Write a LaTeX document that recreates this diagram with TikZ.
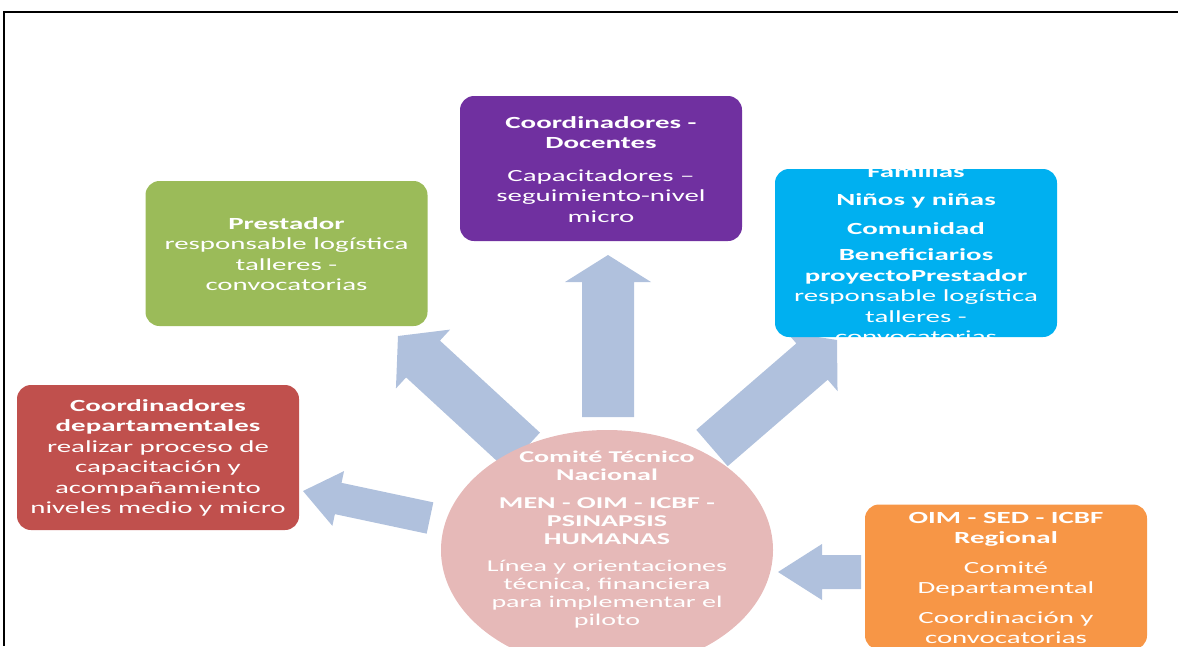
\documentclass[tikz,border=0pt]{standalone}
\usepackage{fontspec}
\setmainfont{Carlito}[FakeStretch=1.7]
\usetikzlibrary{calc,shapes.geometric}
\definecolor{cpurple}{HTML}{7030A0}
\definecolor{cgreen}{HTML}{9BBB59}
\definecolor{cblue}{HTML}{00B0F0}
\definecolor{cred}{HTML}{C0504D}
\definecolor{corange}{HTML}{F79646}
\definecolor{cpink}{HTML}{E6B9B8}
\definecolor{carrow}{RGB}{176,193,221}
\newcommand\myblockarrow[5]{%
  \coordinate (hb) at ($(#2)!#5!(#1)$);
  \fill[arr] ($(#1)!#3!90:(#2)$) -- ($(hb)!#3!90:(#2)$) -- ($(hb)!#4!90:(#2)$) -- (#2)
    -- ($(hb)!#4!-90:(#2)$) -- ($(hb)!#3!-90:(#2)$) -- ($(#1)!#3!-90:(#2)$) -- cycle;}
\begin{document}
\begin{tikzpicture}[x=1pt,y=-1pt,
  box/.style={draw=none, rounded corners=14pt, minimum width=282pt, minimum height=145pt, inner sep=0pt},
  txt/.style={text=white, align=center, font=\fontsize{17}{20.5}\selectfont, inner sep=0pt},
  ctxt/.style={text=white, align=center, font=\fontsize{16.5}{18}\selectfont, inner sep=0pt},
  arr/.style={fill=carrow, draw=none}]
\useasboundingbox (0,0) rectangle (1178,646);
% frame
\draw[line width=2pt] (1178,12) -- (4,12) -- (4,646);

% arrows
\coordinate (upT) at (608,417);   \coordinate (upH) at (608,255);
\coordinate (ulT) at (523,451);   \coordinate (ulH) at (398,336);
\coordinate (urT) at (712,448);   \coordinate (urH) at (837,340);
\coordinate (lT) at (430,518);    \coordinate (lH) at (303,491);
\coordinate (oT) at (861,572);    \coordinate (oH) at (778,572);
\myblockarrow{upT}{upH}{26pt}{43pt}{27pt}
\myblockarrow{ulT}{ulH}{25pt}{40pt}{34pt}
\myblockarrow{urT}{urH}{24pt}{39pt}{33pt}
\myblockarrow{lT}{lH}{16pt}{28pt}{36pt}
\myblockarrow{oT}{oH}{17pt}{28pt}{44pt}

% centre
\node[ellipse, fill=cpink, minimum width=332pt, minimum height=240pt] (core) at (607,550) {};
\node[ctxt] (coretxt) at (607,540) {\textbf{Comité Técnico}\\\textbf{Nacional}\\[10pt]
  \textbf{MEN - OIM - ICBF -}\\\textbf{PSINAPSIS}\\\textbf{HUMANAS}\\[9pt]
  Línea y orientaciones\\técnica, financiera\\para implementar el\\piloto};

% boxes
\node[box, fill=cpurple] (purple) at (601,168.5) {};
\node[txt] (purpletxt) at (601,169.5) {\textbf{Coordinadores -}\\\textbf{Docentes}\\[12pt]
  Capacitadores –\\seguimiento-nivel\\micro};

\node[box, fill=cgreen] (green) at (286.5,253.5) {};
\node[txt] (greentxt) at (286.5,254) {\textbf{Prestador}\\responsable logística\\talleres -\\convocatorias};

\node[box, fill=cblue, minimum height=168pt] (blue) at (916,253) {};
\begin{scope}
\clip[rounded corners=14pt] (775,169) rectangle (1057,337);
\node[txt] (bluetxt) at (916,254) {\textbf{Familias}\\[8pt]\textbf{Niños y niñas}\\[8pt]\textbf{Comunidad}\\[6pt]
  \textbf{Beneficiarios}\\\textbf{proyectoPrestador}\\responsable logística\\talleres -\\convocatorias};
\end{scope}

\node[box, fill=cred] (red) at (158,457.5) {};
\node[txt] (redtxt) at (158,458) {\textbf{Coordinadores}\\\textbf{departamentales}\\realizar proceso de\\capacitación y\\acompañamiento\\niveles medio y micro};

\node[box, fill=corange] (orange) at (1006,577) {};
\node[txt] (orangetxt) at (1006,578) {\textbf{OIM - SED - ICBF}\\\textbf{Regional}\\[9pt]
  Comité\\Departamental\\[9pt]Coordinación y\\convocatorias};
\end{tikzpicture}
\end{document}
